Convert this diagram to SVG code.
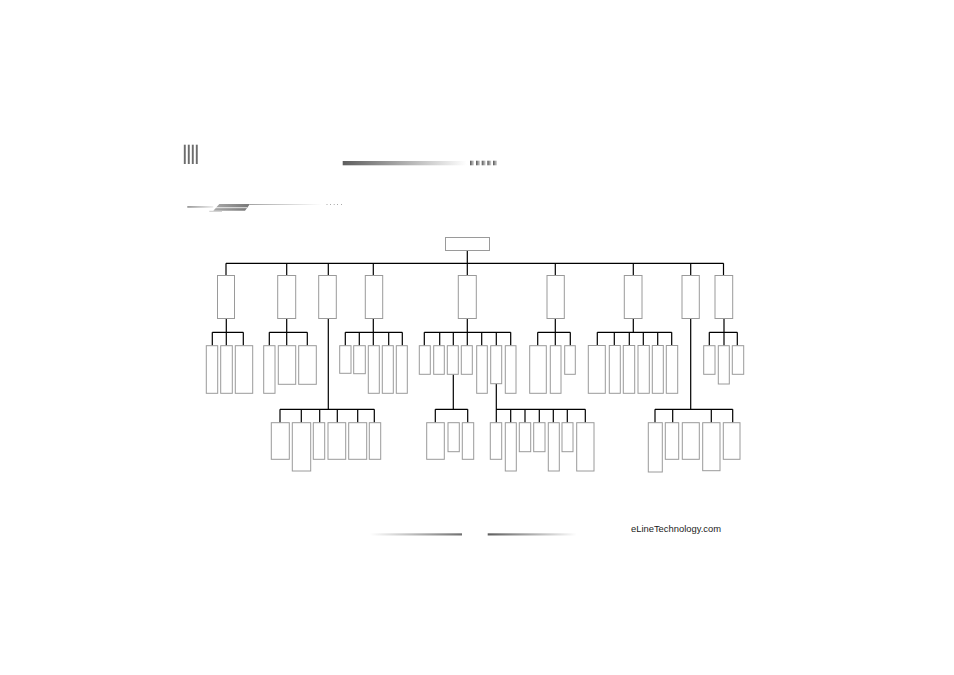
<svg xmlns="http://www.w3.org/2000/svg" width="954" height="675" viewBox="0 0 954 675">
<defs>
<linearGradient id="gDarkToWhite" x1="0" y1="0" x2="1" y2="0"><stop offset="0" stop-color="#5e5e5e"/><stop offset="1" stop-color="#ffffff"/></linearGradient>
<linearGradient id="gWhiteToDark" x1="0" y1="0" x2="1" y2="0"><stop offset="0" stop-color="#ffffff"/><stop offset="1" stop-color="#707070"/></linearGradient>
<linearGradient id="gSq" x1="0" y1="0" x2="1" y2="0"><stop offset="0" stop-color="#555"/><stop offset="1" stop-color="#ddd"/></linearGradient>
<linearGradient id="gBar" x1="0" y1="0" x2="1" y2="0"><stop offset="0" stop-color="#ccc"/><stop offset="0.5" stop-color="#555"/><stop offset="1" stop-color="#bbb"/></linearGradient>
<linearGradient id="gLight" x1="0" y1="0" x2="1" y2="0"><stop offset="0" stop-color="#999"/><stop offset="1" stop-color="#eee"/></linearGradient>
<linearGradient id="gPara" x1="0" y1="0" x2="1" y2="0"><stop offset="0" stop-color="#aaa"/><stop offset="1" stop-color="#777"/></linearGradient>
<linearGradient id="gThin" x1="0" y1="0" x2="1" y2="0"><stop offset="0" stop-color="#999"/><stop offset="1" stop-color="#fff"/></linearGradient>
</defs>
<style>
.n rect{fill:#fff;stroke:#9a9a9a;stroke-width:1}
.c{fill:none;stroke:#000;stroke-width:1.2}
.t{font-family:"Liberation Sans",Arial,sans-serif;font-size:9.4px;fill:#222}
</style>
<rect width="954" height="675" fill="#fff"/>
<g id="decor">
<rect x="183.5" y="144.7" width="2.5" height="19.3" fill="url(#gBar)"/>
<rect x="187.5" y="144.7" width="2.5" height="19.3" fill="url(#gBar)"/>
<rect x="191.5" y="144.7" width="2.5" height="19.3" fill="url(#gBar)"/>
<rect x="195.5" y="144.7" width="2.5" height="19.3" fill="url(#gBar)"/>
<rect x="342.7" y="161" width="124" height="4.3" fill="url(#gDarkToWhite)"/>
<rect x="470" y="160.7" width="4" height="4.6" fill="url(#gSq)"/>
<rect x="476" y="160.7" width="4" height="4.6" fill="url(#gSq)"/>
<rect x="481.7" y="160.7" width="4" height="4.6" fill="url(#gSq)"/>
<rect x="487.3" y="160.7" width="4" height="4.6" fill="url(#gSq)"/>
<rect x="493" y="160.7" width="4" height="4.6" fill="url(#gSq)"/>
<rect x="187.3" y="206" width="26" height="1.8" fill="url(#gLight)"/>
<polygon points="219.3,204 250,204 245,210.8 213.3,210.8" fill="url(#gPara)"/>
<line x1="214" y1="207.7" x2="247" y2="207.7" stroke="#fff" stroke-width="0.8"/>
<line x1="209.3" y1="211.3" x2="222" y2="211.3" stroke="#bbb" stroke-width="0.8"/>
<rect x="250" y="204" width="72" height="0.9" fill="url(#gThin)"/>
<g fill="#aaa"><rect x="326.5" y="204" width="1" height="1"/><rect x="330" y="204" width="1" height="1"/><rect x="333.7" y="204" width="1" height="1"/><rect x="337" y="204" width="1" height="1"/><rect x="341" y="204" width="1" height="1"/></g>
<rect x="370" y="533.3" width="92" height="2.2" fill="url(#gWhiteToDark)"/>
<rect x="487.7" y="533.3" width="89" height="2.2" fill="url(#gDarkToWhite)"/>
<text class="t" x="631" y="532">eLineTechnology.com</text>
</g>
<g id="connectors" class="c">
<path d="M467.3 250.5V263.3M226 263.3H723.5M226 263.3V275.5M286.7 263.3V275.5M328.3 263.3V275.5M373.3 263.3V275.5M467.3 263.3V275.5M555.3 263.3V275.5M633.3 263.3V275.5M690.7 263.3V275.5M723.5 263.3V275.5"/>
<path d="M226.3 318.7V332.3M212.3 332.3H243.3M212.3 332.3V345.7M226.3 332.3V345.7M243.3 332.3V345.7"/>
<path d="M286.7 318.7V332.3M269.3 332.3H307.3M269.3 332.3V345.7M286.7 332.3V345.7M307.3 332.3V345.7"/>
<path d="M328.3 318.7V409.3M280 409.3H374.3M280 409.3V422.7M301.3 409.3V422.7M319.7 409.3V422.7M337.3 409.3V422.7M357.7 409.3V422.7M374.3 409.3V422.7"/>
<path d="M373.3 318.7V332.3M345.3 332.3H402.3M345.3 332.3V345.7M359.3 332.3V345.7M373.3 332.3V345.7M388.7 332.3V345.7M402.3 332.3V345.7"/>
<path d="M467.3 318.7V332.3M424.3 332.3H510.7M424.3 332.3V345.7M439.7 332.3V345.7M453.3 332.3V345.7M467.3 332.3V345.7M481.7 332.3V345.7M496.3 332.3V345.7M510.7 332.3V345.7"/>
<path d="M555.3 318.7V332.3M537.7 332.3H570.3M537.7 332.3V345.7M555.3 332.3V345.7M570.3 332.3V345.7"/>
<path d="M633.3 318.7V332.3M597.3 332.3H671.7M597.3 332.3V345.5M614.3 332.3V345.5M629.3 332.3V345.5M643.3 332.3V345.5M657.7 332.3V345.5M671.7 332.3V345.5"/>
<path d="M690.7 318.7V409.3M655 409.3H732.7M655 409.3V422.7M672.7 409.3V422.7M711.3 409.3V422.7M732.7 409.3V422.7"/>
<path d="M724 318.7V332.3M709.3 332.3H737.3M709.3 332.3V345.7M724 332.3V345.7M737.3 332.3V345.7"/>
<path d="M453.3 374.3V409.3M435.3 409.3H467.7M435.3 409.3V422.7M467.7 409.3V422.7"/>
<path d="M496.3 383.7V409.3M496.3 409.3H585.3M510.7 409.3V422.7M525 409.3V422.7M539.3 409.3V422.7M553.3 409.3V422.7M567.3 409.3V422.7M585.3 409.3V422.7M496.3 409.3V422.7"/>
</g>
<g id="root" class="n"><rect x="445.5" y="237.5" width="44" height="13"/></g>
<g id="l1" class="n">
<rect x="217.5" y="275.5" width="17" height="43"/>
<rect x="277.7" y="275.5" width="18" height="43"/>
<rect x="318.7" y="275.5" width="17.6" height="43"/>
<rect x="365.3" y="275.5" width="17.4" height="43"/>
<rect x="458.3" y="275.5" width="18" height="43"/>
<rect x="547" y="275.5" width="17.3" height="43"/>
<rect x="624.3" y="275.5" width="17.7" height="43"/>
<rect x="682" y="275.5" width="17.3" height="43"/>
<rect x="715" y="275.5" width="17.7" height="43"/>
</g>
<g id="g1" class="n">
<rect x="206.3" y="345.7" width="11.4" height="47.6"/>
<rect x="220.7" y="345.7" width="11.6" height="47.6"/>
<rect x="235.3" y="345.7" width="17.4" height="47.6"/>
</g>
<g id="g2" class="n">
<rect x="263.7" y="345.7" width="11.3" height="47.6"/>
<rect x="278.3" y="345.7" width="17.4" height="38.6"/>
<rect x="298.7" y="345.7" width="17.6" height="38.6"/>
</g>
<g id="g3" class="n">
<rect x="271.3" y="422.7" width="18" height="36.6"/>
<rect x="292.3" y="422.7" width="18.4" height="48.3"/>
<rect x="313.3" y="422.7" width="11.4" height="36.6"/>
<rect x="328" y="422.7" width="17.7" height="36.6"/>
<rect x="348.7" y="422.7" width="18" height="36.6"/>
<rect x="369.3" y="422.7" width="11.4" height="36.6"/>
</g>
<g id="g4" class="n">
<rect x="339.7" y="345.7" width="11.3" height="27.6"/>
<rect x="353.7" y="345.7" width="11.6" height="28"/>
<rect x="368.3" y="345.7" width="11" height="47.6"/>
<rect x="382.3" y="345.7" width="11" height="47.6"/>
<rect x="396.3" y="345.7" width="11" height="47.6"/>
</g>
<g id="g5" class="n">
<rect x="419.3" y="345.7" width="11" height="28.6"/>
<rect x="433.7" y="345.7" width="10.6" height="28.6"/>
<rect x="447.3" y="345.7" width="11" height="28.6"/>
<rect x="461.3" y="345.7" width="11" height="28.6"/>
<rect x="476.7" y="345.7" width="10.6" height="47.6"/>
<rect x="490.7" y="345.7" width="11" height="38"/>
<rect x="505.3" y="345.7" width="10.7" height="47.6"/>
</g>
<g id="g6" class="n">
<rect x="529.7" y="345.7" width="16.6" height="47.6"/>
<rect x="550.3" y="345.7" width="10.7" height="47.6"/>
<rect x="564.7" y="345.7" width="10.6" height="28.6"/>
</g>
<g id="g7" class="n">
<rect x="588.3" y="345.5" width="17" height="47.8"/>
<rect x="609.3" y="345.5" width="11" height="47.8"/>
<rect x="623.3" y="345.5" width="11.4" height="47.8"/>
<rect x="638" y="345.5" width="11.3" height="47.8"/>
<rect x="652.3" y="345.5" width="11" height="47.8"/>
<rect x="666.3" y="345.5" width="11.4" height="47.8"/>
</g>
<g id="g8" class="n">
<rect x="648.3" y="422.7" width="14" height="49.3"/>
<rect x="665.3" y="422.7" width="13.4" height="36.6"/>
<rect x="682.3" y="422.7" width="17" height="36.6"/>
<rect x="702.7" y="422.7" width="17.3" height="48"/>
<rect x="723.3" y="422.7" width="16.7" height="36.6"/>
</g>
<g id="g9" class="n">
<rect x="703.7" y="345.7" width="11.3" height="28.6"/>
<rect x="718.3" y="345.7" width="11" height="38.3"/>
<rect x="732.3" y="345.7" width="11.4" height="28.6"/>
</g>
<g id="g53" class="n">
<rect x="426.7" y="422.7" width="17.6" height="36.6"/>
<rect x="448" y="422.7" width="11.3" height="29"/>
<rect x="462.3" y="422.7" width="11.4" height="36.6"/>
</g>
<g id="g56" class="n">
<rect x="490.3" y="422.7" width="11.4" height="36.6"/>
<rect x="505.3" y="422.7" width="11" height="48.3"/>
<rect x="519.3" y="422.7" width="11.4" height="29"/>
<rect x="533.7" y="422.7" width="11.3" height="29"/>
<rect x="548.3" y="422.7" width="11" height="48.3"/>
<rect x="562" y="422.7" width="11" height="29"/>
<rect x="576.7" y="422.7" width="17.3" height="48.3"/>
</g>
</svg>
